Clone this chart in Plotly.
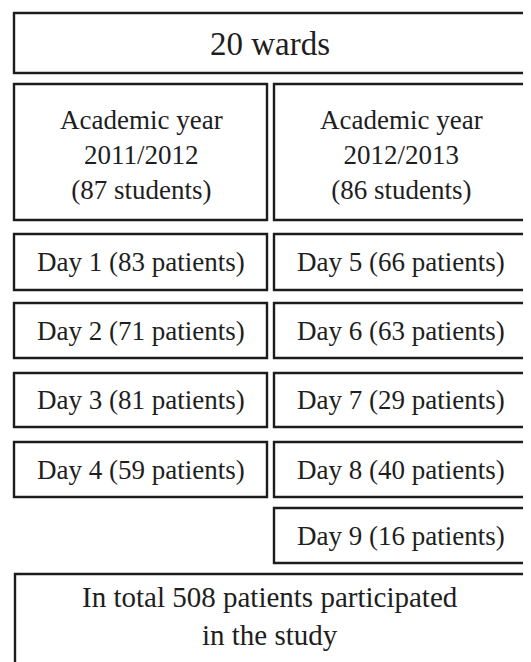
import plotly.graph_objects as go

# ---- content ----
top_label = "20 wards"
years = ["2011/2012", "2012/2013"]
students = [87, 86]
days_left = [1, 2, 3, 4]
patients_left = [83, 71, 81, 59]
days_right = [5, 6, 7, 8, 9]
patients_right = [66, 63, 29, 40, 16]
total_patients = 508

W, H = 531, 662
OFF = 8  # page body margin, compensated through the axis ranges
FONT = "Liberation Serif"
LINE = dict(color="#1c1c1c", width=2.4)
TXT = "#1e1e1e"

# column extents (px in page coordinates)
LX0, LX1 = 14, 267
RX0, RX1 = 274, 534
# rows (top, bottom)
top_row = (13, 73)
year_row = (84, 220)
day_rows = [(234, 290), (303, 358), (373, 427), (442, 497), (508, 563)]
total_row = (574, 668)

fig = go.Figure()
shapes = []
annotations = []


def box(x0, x1, y0, y1):
    shapes.append(dict(type="rect", xref="x", yref="y", x0=x0, x1=x1, y0=y0, y1=y1,
                       line=LINE, fillcolor="white", layer="below"))


def label(x, y, text, size):
    annotations.append(dict(x=x, y=y, xref="x", yref="y", text=text, showarrow=False,
                            font=dict(family=FONT, size=size, color=TXT),
                            xanchor="center", yanchor="middle", align="center"))


box(LX0, RX1, *top_row)
label(270, 44, top_label, 33)

for (x0, x1, cx), yr, st in zip([(LX0, LX1, 141), (RX0, RX1, 401)], years, students):
    box(x0, x1, *year_row)
    label(cx, 155, f"Academic year<br>{yr}<br>({st} students)", 27)

for (y0, y1), d, p in zip(day_rows, days_left, patients_left):
    box(LX0, LX1, y0, y1)
    label(141, (y0 + y1) / 2, f"Day {d} ({p} patients)", 27)

for (y0, y1), d, p in zip(day_rows, days_right, patients_right):
    box(RX0, RX1, y0, y1)
    label(401, (y0 + y1) / 2, f"Day {d} ({p} patients)", 27)

box(15, RX1, *total_row)
label(270, 616, f"In total {total_patients} patients participated<br>in the study", 29)

fig.add_trace(go.Scatter(x=[OFF, W + OFF], y=[OFF, H + OFF], mode="markers",
                         marker=dict(opacity=0), hoverinfo="skip", showlegend=False))

fig.update_layout(
    width=W, height=H, margin=dict(l=0, r=0, t=0, b=0),
    paper_bgcolor="white", plot_bgcolor="white",
    xaxis=dict(range=[OFF, W + OFF], visible=False, fixedrange=True),
    yaxis=dict(range=[H + OFF, OFF], visible=False, fixedrange=True),
    shapes=shapes, annotations=annotations, showlegend=False,
)

fig.write_html("out.html", config={"displayModeBar": False})
